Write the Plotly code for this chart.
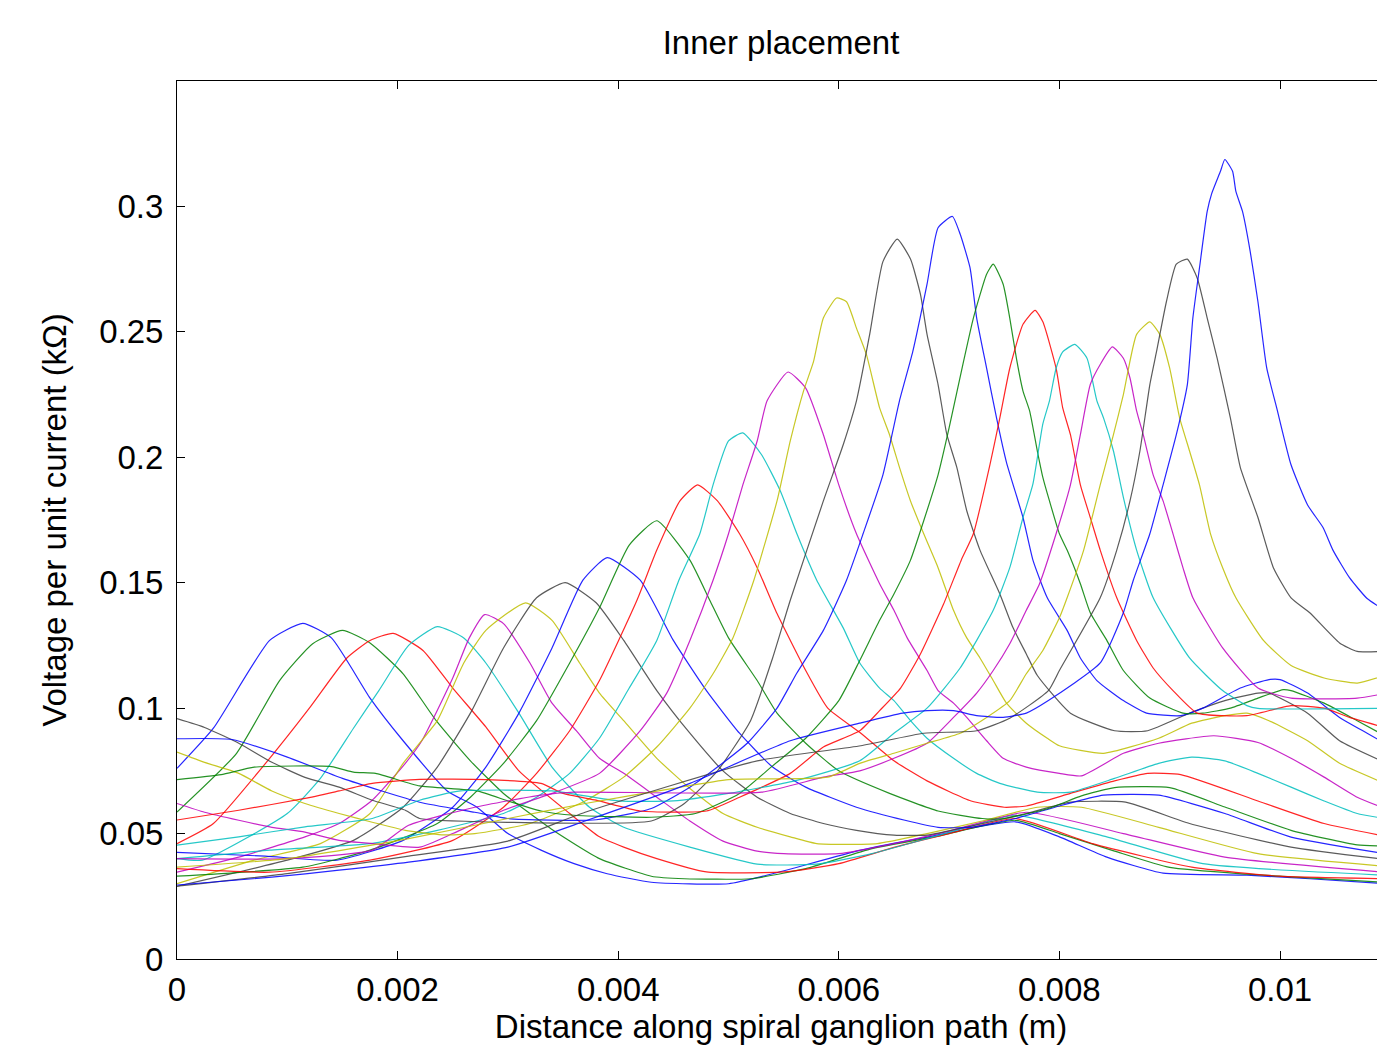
import plotly.graph_objects as go

# ---------------- data (x in metres, y in kOhm) ----------------
e01_x = [0, .00033, .00084, .00114, .0014, .00175, .00205, .00245, .00272, .003, .0033, .0036, .0039, .0043, .005, .0054, .0062, .0068, .0076, .008, .00843, .00894, .0097, .01027, .01095]
e01_y = [.076, .092, .127, .1338, .128, .104, .087, .067, .0605, .050, .0434, .038, .034, .0306, .030, .034, .0434, .0486, .0547, .0487, .0406, .0342, .0334, .032, .030]

e02_x = [0, .00054, .00093, .00123, .0015, .00175, .00205, .00235, .00266, .00296, .00341, .00383, .0043, .0046, .0052, .0057, .0063, .0069, .0076, .008, .0085, .009, .0097, .01095]
e02_y = [.0586, .082, .111, .1257, .131, .126, .1137, .095, .079, .066, .0513, .040, .033, .032, .032, .036, .044, .049, .0553, .050, .043, .0365, .0338, .0306]

e03_x = [0, .00033, .00084, .0012, .00154, .00175, .00196, .00223, .0025, .0028, .0031, .00356, .00383, .00405, .00435, .0048, .0055, .006, .0065, .007, .0076, .0083, .0092, .01, .01095]
e03_y = [.046, .054, .080, .100, .120, .127, .1298, .123, .108, .0925, .075, .058, .0487, .0446, .040, .0347, .0347, .038, .0445, .050, .056, .046, .0366, .033, .032]

e04_x = [0, .00023, .001, .0013, .0016, .00183, .0021, .00236, .0026, .0028, .0031, .0034, .00374, .00405, .00465, .00526, .0058, .0063, .0068, .0072, .0076, .00843, .0093, .01095]
e04_y = [.040, .0394, .058, .072, .092, .107, .125, .1325, .128, .118, .098, .0765, .0605, .0525, .0446, .0378, .0378, .042, .048, .053, .0573, .0487, .038, .0334]

e05_x = [0, .00056, .00116, .00147, .00177, .00207, .00222, .0025, .00265, .00279, .00296, .0032, .0034, .00362, .00383, .00405, .00435, .00465, .00495, .00526, .0055, .006, .0065, .007, .0077, .00858, .0095, .01095]
e05_y = [.0346, .0406, .0487, .054, .0633, .078, .087, .112, .128, .1373, .1337, .118, .102, .091, .080, .074, .0645, .055, .047, .043, .042, .042, .046, .051, .0585, .050, .0406, .0346]

e06_x = [0, .0007, .0013, .00175, .00205, .00236, .0026, .0028, .00316, .0034, .00365, .00383, .00405, .00435, .00465, .00495, .00526, .00556, .0058, .00635, .0068, .0073, .0078, .0082, .0089, .0098, .01095]
e06_y = [.030, .0394, .046, .058, .078, .095, .118, .131, .142, .135, .118, .106, .095, .080, .068, .058, .0525, .0487, .046, .046, .050, .055, .0605, .0605, .0525, .042, .037]

e07_x = [0, .001, .0016, .00205, .00236, .00266, .00296, .00326, .00352, .0038, .00405, .00435, .00465, .00495, .00526, .00556, .00586, .00616, .0065, .0068, .0072, .0077, .0081, .0086, .00918, .0101, .01095]
e07_y = [.029, .0394, .0473, .0605, .0765, .098, .124, .144, .150, .142, .127, .107, .090, .075, .0645, .058, .054, .0513, .0494, .0494, .053, .058, .0625, .0625, .054, .0446, .0397]

e08_x = [0, .0008, .00145, .00205, .0025, .0028, .0031, .0034, .00368, .0039, .0042, .0045, .0048, .0051, .0054, .0057, .00616, .0066, .0069, .0072, .0076, .008, .0084, .0089, .0095, .0101, .01095]
e08_y = [.0425, .041, .0394, .0473, .0605, .0765, .098, .124, .151, .160, .151, .127, .107, .090, .0765, .0685, .0605, .0553, .0525, .0525, .056, .061, .0653, .0653, .058, .0486, .042]

e09_x = [0, .00114, .00175, .00236, .00266, .00296, .00326, .00356, .00383, .0041, .00435, .00465, .00483, .005, .00526, .00544, .0057, .006, .00646, .0069, .0073, .0075, .0079, .0082, .0085, .009, .0095, .0101, .0107, .01095]
e09_y = [.033, .0366, .0434, .054, .0645, .078, .095, .118, .140, .165, .1747, .159, .143, .128, .111, .098, .086, .075, .066, .059, .056, .056, .060, .065, .0683, .0683, .0606, .0513, .0455, .045]

e10_x = [0, .00084, .00175, .0025, .00296, .00326, .00356, .00383, .00417, .00435, .00456, .00472, .0049, .0051, .00526, .00544, .0057, .0059, .0062, .0065, .0068, .0072, .0075, .0077, .0081, .0085, .0088, .0091, .0098, .0104, .01095]
e10_y = [.036, .0346, .0394, .0473, .0605, .074, .091, .111, .143, .163, .1826, .189, .1826, .1695, .156, .1377, .115, .100, .090, .079, .071, .063, .0605, .061, .066, .071, .074, .0735, .063, .054, .049]

e11_x = [0, .00084, .00175, .00236, .00296, .00326, .00356, .00383, .0041, .00435, .00455, .00474, .00486, .005, .00513, .0053, .00547, .00562, .0058, .00604, .00619, .00637, .0065, .00665, .0068, .00704, .00725, .00746, .0078, .0081, .0085, .0089, .0092, .0095, .0098, .0101, .0104, .0107, .01095]
e11_y = [.040, .0434, .046, .0513, .058, .0645, .074, .088, .108, .127, .151, .1695, .189, .2065, .2097, .201, .1866, .1695, .151, .132, .118, .108, .103, .095, .088, .080, .074, .070, .0665, .0665, .072, .078, .0805, .079, .074, .0685, .063, .058, .056]

e12_x = [0, .00025, .00056, .00086, .00116, .00147, .00177, .0022, .0025, .00296, .0034, .00383, .0042, .00444, .00465, .00486, .005, .00513, .00526, .00535, .00554, .0057, .00586, .006, .00616, .00637, .0065, .00662, .0068, .0069, .00704, .00716, .00734, .00749, .0077, .008, .0082, .00858, .0089, .0094, .0098, .0101, .0104, .0107, .01095]
e12_y = [.062, .0585, .0553, .0525, .0506, .0473, .046, .0446, .050, .0593, .066, .074, .091, .106, .127, .151, .1695, .189, .2065, .2225, .234, .2276, .209, .189, .1695, .1496, .139, .128, .115, .107, .102, .0963, .087, .080, .0765, .074, .073, .082, .086, .089, .0863, .080, .0725, .0645, .060]

e13_x = [0, .00025, .00056, .00086, .00116, .00147, .00177, .00207, .0024, .0027, .0032, .0037, .00405, .00435, .00465, .00486, .00504, .00523, .00544, .00556, .00568, .00577, .00586, .00598, .00607, .00616, .00625, .00637, .00646, .00655, .00665, .00677, .0069, .00704, .00716, .00728, .0074, .00752, .0077, .00789, .008, .0084, .0089, .0092, .0095, .0097, .0099, .01025, .01054, .01095]
e13_y = [.0825, .0784, .074, .067, .062, .058, .0545, .0513, .0495, .050, .054, .063, .0725, .0845, .100, .1137, .128, .151, .1826, .2065, .2264, .238, .2555, .2635, .262, .2515, .241, .2197, .209, .196, .1826, .1695, .156, .139, .128, .120, .111, .102, .094, .088, .085, .082, .088, .094, .097, .098, .095, .087, .078, .070]

e14_x = [0, .00025, .00056, .00086, .00116, .00147, .00177, .00207, .0022, .003, .0043, .0046, .0049, .0052, .0054, .00556, .00586, .00604, .00616, .00628, .0064, .00653, .00665, .00674, .0068, .0069, .00698, .00707, .00716, .00728, .00746, .00758, .0077, .0078, .0081, .0085, .0088, .00918, .0095, .0098, .0099, .01025, .01054, .01095]
e14_y = [.0958, .0923, .086, .0784, .0724, .0685, .0633, .0593, .056, .0545, .055, .062, .075, .095, .12, .143, .1826, .205, .2225, .249, .278, .287, .279, .265, .249, .229, .209, .196, .1787, .163, .1455, .132, .1216, .113, .098, .091, .091, .098, .103, .106, .106, .098, .087, .0784]

e15_x = [0, .0005, .001, .0015, .0022, .0027, .003, .0038, .0043, .00465, .0049, .00517, .00544, .00562, .00586, .00607, .00622, .0064, .00655, .00667, .0068, .0069, .00703, .0071, .00719, .00725, .00734, .00743, .00752, .00767, .00776, .00789, .00807, .00819, .00834, .00858, .00879, .0091, .0093, .00964, .0099, .01, .01025, .01054, .01079, .01095]
e15_y = [.0878, .0875, .0805, .072, .0625, .0585, .056, .0555, .060, .0685, .0765, .086, .100, .114, .131, .151, .1695, .193, .2225, .242, .269, .2915, .296, .289, .2755, .2555, .2355, .2157, .198, .176, .159, .144, .131, .120, .111, .103, .098, .097, .100, .108, .1114, .1114, .106, .0963, .090, .086]

e16_x = [0, .0004, .0007, .0014, .0016, .0018, .0022, .00272, .003, .0033, .0036, .0043, .0047, .0051, .0054, .0057, .006, .00619, .00637, .0065, .00665, .00677, .0069, .007, .00713, .00722, .00734, .0074, .00749, .00755, .00761, .00767, .00773, .0078, .00785, .00791, .008, .00807, .00819, .00828, .00843, .00858, .00882, .00912, .0093, .00955, .0098, .01003, .0101, .0104, .0107, .01095]
e16_y = [.0715, .0735, .0765, .0767, .0745, .074, .069, .067, .063, .059, .0573, .0565, .058, .066, .077, .088, .103, .119, .135, .1455, .159, .1747, .193, .2117, .238, .2555, .273, .277, .269, .2555, .2395, .2264, .2185, .2025, .192, .1826, .1695, .163, .1496, .138, .127, .115, .104, .098, .098, .100, .104, .1074, .107, .102, .095, .089]

e17_x = [0, .00056, .00116, .00147, .00177, .0022, .0028, .0033, .0035, .0038, .0042, .0048, .0051, .00556, .00586, .00619, .00637, .00656, .00674, .00695, .00711, .00722, .00737, .00746, .00755, .00767, .00778, .00785, .00797, .00803, .0081, .00819, .00828, .00837, .00852, .0087, .00885, .00903, .00925, .0097, .0101, .0104, .01063, .01095]
e17_y = [.0554, .0593, .064, .067, .070, .0716, .0715, .070, .066, .0633, .059, .059, .0645, .074, .0845, .091, .099, .108, .1216, .1415, .159, .1695, .197, .2157, .2355, .253, .2586, .254, .2355, .2197, .209, .189, .176, .163, .144, .127, .116, .107, .098, .097, .101, .100, .0963, .0923]

e18_x = [0, .00056, .00116, .00177, .0022, .00257, .0034, .004, .0045, .005, .0056, .00619, .0065, .0068, .0071, .0074, .00755, .00767, .00776, .00785, .00791, .00797, .00803, .00814, .00825, .00834, .0084, .00849, .00858, .0087, .00885, .00918, .00948, .0097, .0098, .01095]
e18_y = [.0454, .0487, .0527, .056, .0633, .067, .067, .063, .063, .066, .071, .079, .090, .100, .116, .139, .156, .176, .1894, .2133, .2225, .2355, .242, .245, .2395, .2225, .2157, .2025, .184, .163, .144, .120, .107, .101, .0999, .0999]

e19_x = [0, .001, .00177, .0021, .0027, .0033, .0036, .0053, .00586, .00619, .0065, .0068, .00704, .00725, .0074, .00755, .0077, .00782, .00797, .0081, .00819, .00828, .00837, .00848, .00858, .00864, .0087, .00876, .00885, .00894, .00903, .00912, .00921, .00948, .0098, .0101, .0107, .01095]
e19_y = [.040, .040, .0434, .0533, .0605, .0653, .0665, .0665, .0725, .075, .080, .086, .0963, .106, .115, .1257, .139, .1496, .1695, .189, .209, .229, .237, .244, .2395, .2316, .2185, .209, .193, .1826, .1695, .156, .144, .124, .108, .104, .104, .1058]

e20_x = [0, .001, .0021, .003, .0037, .0045, .005, .0059, .00619, .0065, .0068, .0071, .00734, .00755, .0077, .00785, .008, .00807, .00822, .00837, .00849, .00858, .0087, .00882, .00891, .009, .00909, .00918, .00927, .00937, .00948, .0096, .00985, .0101, .0104, .0107, .01095]
e20_y = [.0366, .040, .048, .056, .062, .068, .0715, .0725, .078, .082, .086, .090, .0963, .103, .1137, .123, .136, .144, .163, .189, .209, .225, .249, .254, .249, .2355, .2157, .2025, .189, .1695, .156, .144, .127, .117, .112, .110, .113]

e21_x = [0, .001, .0021, .003, .0037, .00526, .0062, .00677, .00725, .00755, .0079, .008, .00837, .00852, .00864, .00873, .00882, .00888, .00897, .00906, .00916, .00925, .00934, .00943, .00955, .00964, .0098, .00994, .0101, .01027, .01054, .0107, .01095]
e21_y = [.029, .034, .041, .047, .0585, .079, .085, .090, .091, .096, .107, .115, .144, .163, .1826, .2025, .229, .242, .262, .277, .279, .2714, .2555, .2395, .2157, .196, .176, .156, .144, .138, .126, .1226, .1226]

e22_x = [0, .00086, .00147, .0021, .003, .0037, .00465, .00556, .00619, .00658, .0068, .00704, .00725, .00749, .0077, .0079, .00837, .00858, .00867, .00882, .00894, .00906, .00916, .00921, .00927, .00934, .00938, .00946, .0095, .00957, .0096, .00966, .00973, .0098, .00988, .00997, .0101, .01025, .01039, .01048, .01063, .01079, .01095]
e22_y = [.0295, .0326, .0354, .0386, .0446, .055, .070, .087, .094, .098, .099, .099, .097, .0963, .098, .103, .118, .138, .151, .1695, .189, .209, .229, .2555, .2755, .298, .305, .314, .3187, .314, .306, .298, .282, .262, .2355, .2197, .197, .181, .172, .163, .152, .1437, .139]

# MATLAB-style colour order b, g, r, c, m, y, k
color_order = ["#0000ff", "#008000", "#ff0000", "#00bfbf", "#bf00bf", "#bfbf00", "#3f3f3f"]

x_ticks = [0, 0.002, 0.004, 0.006, 0.008, 0.01]
y_ticks = [0, 0.05, 0.1, 0.15, 0.2, 0.25, 0.3]

curves = [
    (e01_x, e01_y), (e02_x, e02_y), (e03_x, e03_y), (e04_x, e04_y), (e05_x, e05_y),
    (e06_x, e06_y), (e07_x, e07_y), (e08_x, e08_y), (e09_x, e09_y), (e10_x, e10_y),
    (e11_x, e11_y), (e12_x, e12_y), (e13_x, e13_y), (e14_x, e14_y), (e15_x, e15_y),
    (e16_x, e16_y), (e17_x, e17_y), (e18_x, e18_y), (e19_x, e19_y), (e20_x, e20_y),
    (e21_x, e21_y), (e22_x, e22_y),
]

FONT = "Liberation Sans, Arial, Helvetica, sans-serif"

# the page body adds an 8 px margin; the figure is sized so that it fits the window
FIG_W, FIG_H = 1377, 1041

fig = go.Figure()
for i, (xs, ys) in enumerate(curves):
    fig.add_trace(go.Scatter(
        x=xs, y=ys, mode="lines",
        line=dict(color=color_order[i % 7], width=1.2, shape="spline", smoothing=0.5),
        opacity=0.85, showlegend=False, hoverinfo="skip",
    ))

# dummy trace so the right-hand tick axis is drawn
fig.add_trace(go.Scatter(x=[None], y=[None], yaxis="y2", showlegend=False, hoverinfo="skip"))

fig.update_layout(
    width=FIG_W, height=FIG_H,
    margin=dict(l=169, r=0, t=73, b=90, autoexpand=False),
    paper_bgcolor="white", plot_bgcolor="white",
    font=dict(family=FONT, color="black", size=33),
    title=dict(text="Inner placement", x=0.5, xref="paper", xanchor="center",
               y=1 - 34 / FIG_H, yref="container", yanchor="middle",
               font=dict(family=FONT, size=33, color="black")),
    xaxis=dict(
        range=[0, 1208 / 110300], tickvals=x_ticks, ticktext=[str(v) for v in x_ticks],
        ticks="inside", ticklen=8, tickwidth=1, tickcolor="black",
        showline=True, linecolor="black", linewidth=1, mirror="ticks",
        showgrid=False, zeroline=False, ticklabelstandoff=1, automargin=False,
        tickfont=dict(size=33),
        title=dict(text="Distance along spiral ganglion path (m)", standoff=8,
                   font=dict(size=33)),
    ),
    yaxis=dict(
        range=[0, 0.35], tickvals=y_ticks, ticktext=[str(v) for v in y_ticks],
        ticks="inside", ticklen=8, tickwidth=1, tickcolor="black",
        showline=True, linecolor="black", linewidth=1, mirror=False,
        showgrid=False, zeroline=False, ticklabelstandoff=6, automargin=False,
        tickfont=dict(size=33),
        title=dict(text="Voltage per unit current (kΩ)", standoff=22,
                   font=dict(size=33)),
    ),
    yaxis2=dict(
        range=[0, 0.35], tickvals=y_ticks, overlaying="y", side="right",
        ticks="inside", ticklen=8, tickcolor="black", showticklabels=False,
        showline=False, showgrid=False, zeroline=False, automargin=False,
    ),
)

fig.write_html("out.html")
